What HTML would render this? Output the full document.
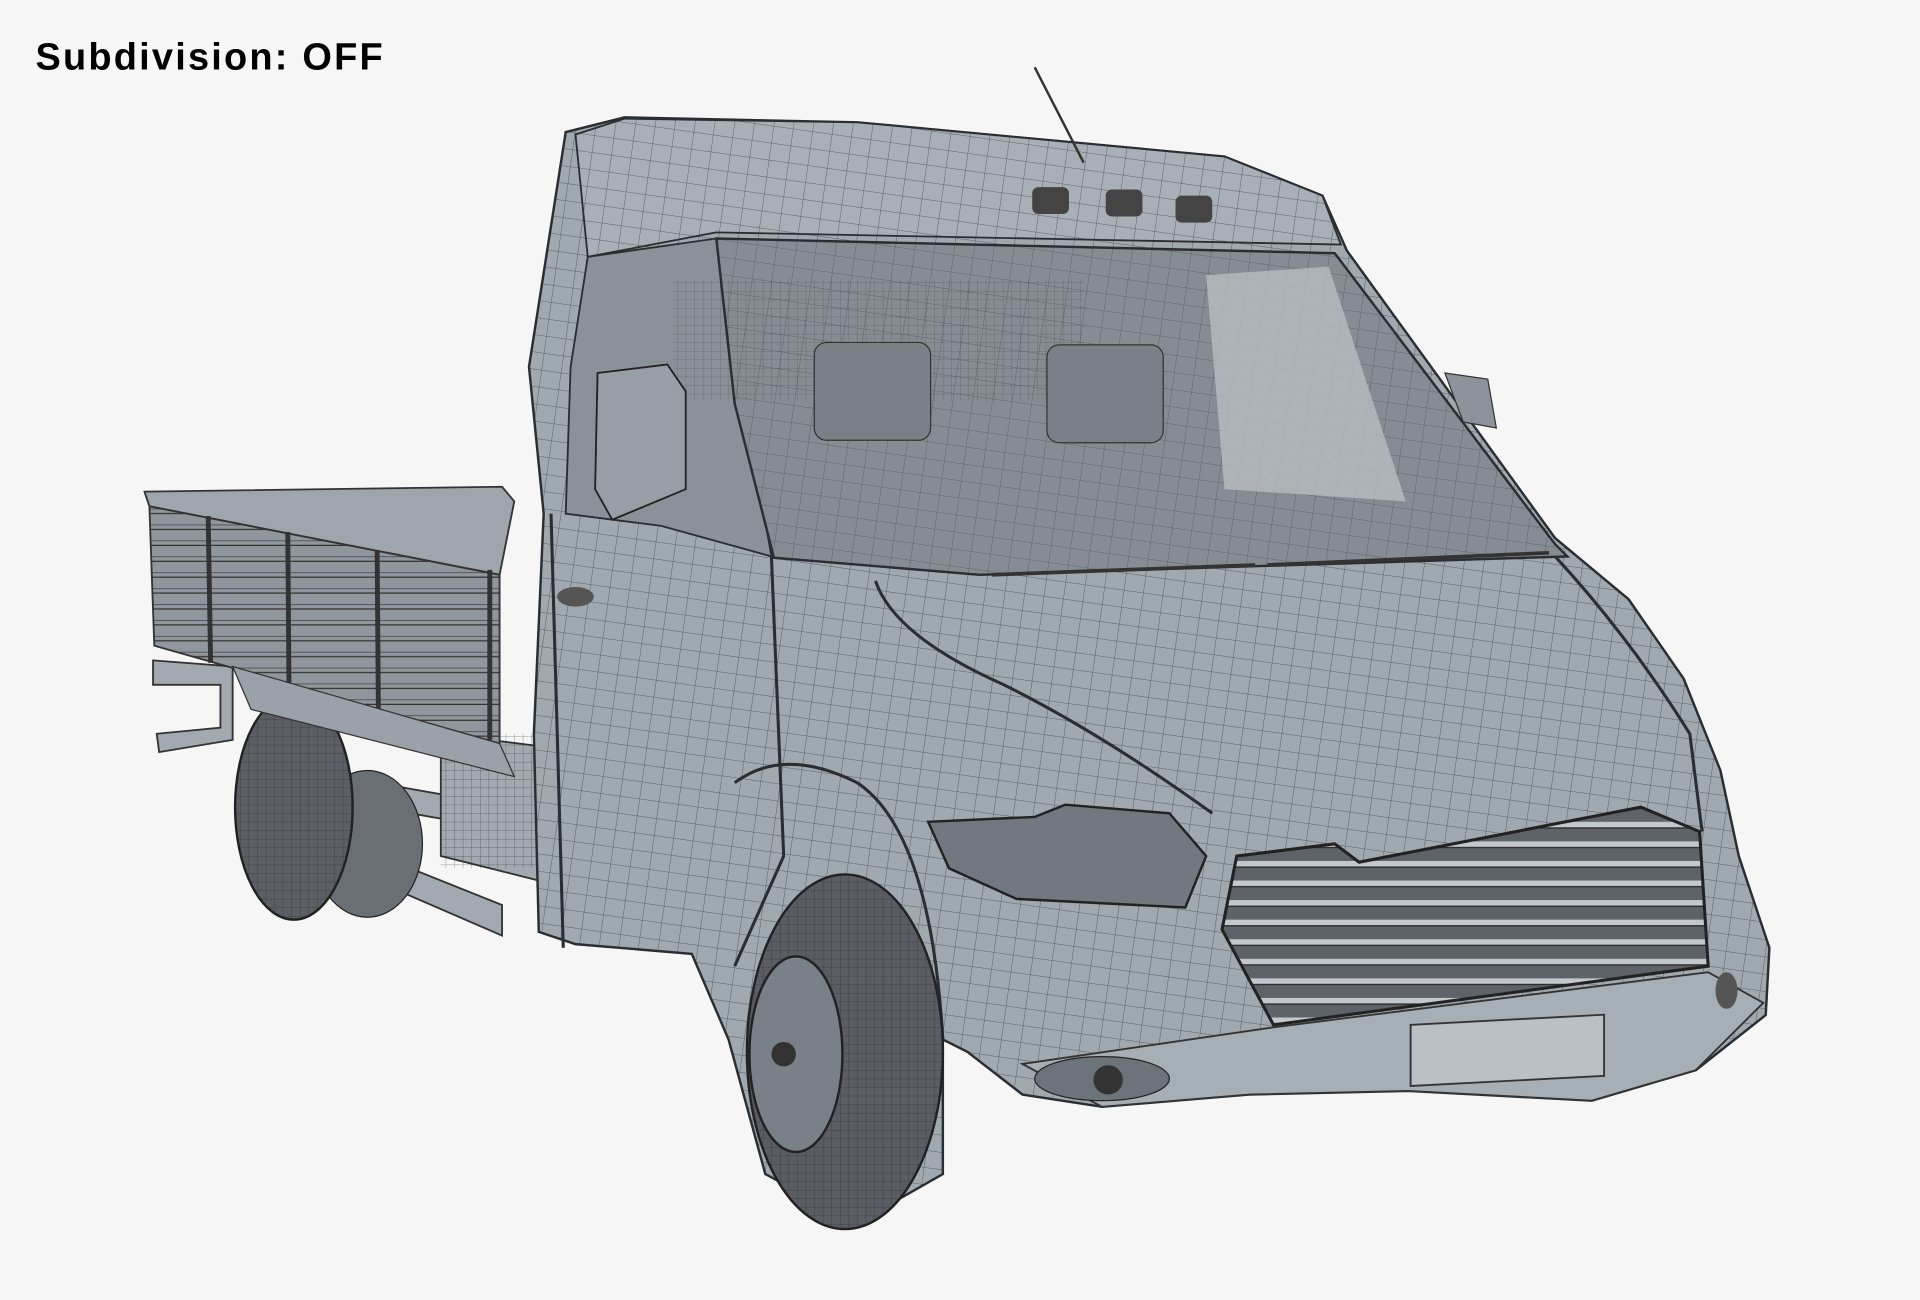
<!DOCTYPE html>
<html><head><meta charset="utf-8"><style>
html,body{margin:0;padding:0;background:#f6f6f6;}
svg{display:block;}
</style></head><body>
<svg width="1920" height="1300" viewBox="0 0 1568 1063" preserveAspectRatio="none" xmlns="http://www.w3.org/2000/svg">
<defs>
<pattern id="mesh" width="16" height="14" patternUnits="userSpaceOnUse" patternTransform="rotate(8)">
<path d="M0 0H16M0 0V14" stroke="#2a2e33" stroke-width="0.8" fill="none" opacity="0.6"/>
</pattern>
<pattern id="fine" width="7" height="7" patternUnits="userSpaceOnUse">
<path d="M0 0H7M0 0V7" stroke="#222" stroke-width="0.6" fill="none" opacity="0.6"/>
</pattern>
<pattern id="slat" width="20" height="16" patternUnits="userSpaceOnUse">
<rect width="20" height="16" fill="#5e636a"/><rect y="0" width="20" height="5" fill="#c2c8ce"/><path d="M0 5H20" stroke="#222" stroke-width="1"/>
</pattern>
<pattern id="bedslat" width="20" height="13" patternUnits="userSpaceOnUse">
<rect width="20" height="13" fill="#8f969e"/><path d="M0 0H20M0 4H20" stroke="#333" stroke-width="1"/>
</pattern>
</defs>
<rect width="1568" height="1063" fill="#f6f6f6"/>
<text x="29" y="57" font-family="Liberation Sans, sans-serif" font-weight="bold" font-size="31" letter-spacing="1.8" fill="#000">Subdivision: OFF</text>

<!-- chassis rails -->
<g fill="#a2a9b1" stroke="#333" stroke-width="1.5">
<polygon points="125,540 190,545 190,605 130,615 128,600 180,595 180,560 125,560"/>
<polygon points="250,630 420,660 420,680 250,650"/>
<polygon points="260,680 410,740 410,765 260,700"/>
<polygon points="360,600 440,610 440,720 360,700"/>
</g>
<rect x="360" y="600" width="80" height="110" fill="url(#fine)"/>

<!-- rear wheel -->
<ellipse cx="300" cy="690" rx="45" ry="60" fill="#6a6f75" stroke="#222"/>
<ellipse cx="240" cy="660" rx="48" ry="92" fill="#5b5f65" stroke="#222" stroke-width="2"/>
<ellipse cx="240" cy="660" rx="48" ry="92" fill="url(#fine)"/>

<!-- bed -->
<polygon points="118,402 410,398 420,410 408,470 122,414" fill="#9ea5ad" stroke="#333" stroke-width="1.5"/>
<polygon points="122,414 408,470 408,608 126,528" fill="url(#bedslat)" stroke="#333" stroke-width="1.5"/>
<g stroke="#333" stroke-width="4">
<line x1="170" y1="422" x2="172" y2="542"/><line x1="235" y1="435" x2="236" y2="560"/><line x1="308" y1="450" x2="309" y2="580"/><line x1="400" y1="466" x2="400" y2="605"/>
</g>
<polygon points="190,545 408,608 420,635 205,580" fill="#9aa1a9" stroke="#333"/>

<!-- cab body -->
<path d="M462,108 L510,96 L700,100 L1000,128 L1080,160 L1100,205 L1270,440 L1330,490 L1375,555 L1405,630 L1420,700 L1445,775 L1442,830 L1385,875 L1300,900 L1150,892 L1020,895 L900,905 L835,895 L790,860 L770,850 L770,960 L700,1000 L625,960 L595,850 L565,780 L470,772 L440,762 L436,600 L444,420 L432,300 Z" fill="#a0a8b0" stroke="#2a2e33" stroke-width="2"/>
<path d="M462,108 L510,96 L700,100 L1000,128 L1080,160 L1100,205 L1270,440 L1330,490 L1375,555 L1405,630 L1420,700 L1445,775 L1442,830 L1385,875 L1300,900 L1150,892 L1020,895 L900,905 L835,895 L790,860 L770,850 L770,960 L700,1000 L625,960 L595,850 L565,780 L470,772 L440,762 L436,600 L444,420 L432,300 Z" fill="url(#mesh)"/>

<!-- roof top -->
<path d="M470,110 L510,97 L700,100 L1000,128 L1080,160 L1095,200 L585,190 L480,210 Z" fill="#a8afb6" stroke="#2a2e33" stroke-width="1.5"/>
<path d="M470,110 L510,97 L700,100 L1000,128 L1080,160 L1095,200 L585,190 L480,210 Z" fill="url(#mesh)"/>

<!-- side window -->
<path d="M480,210 L585,195 L630,455 L540,430 L462,420 L466,300 Z" fill="#8b9198" stroke="#2a2e33" stroke-width="1.5"/>
<!-- windshield -->
<path d="M585,195 L1090,207 L1270,445 L1280,455 L800,470 L632,456 L600,330 Z" fill="#868c93" stroke="#2a2e33" stroke-width="2"/>
<path d="M585,195 L1090,207 L1270,445 L1280,455 L800,470 L632,456 L600,330 Z" fill="url(#mesh)" opacity="0.7"/>
<polygon points="985,225 1085,218 1148,410 1000,400" fill="#b8bdc2" opacity="0.8"/>
<rect x="550" y="228" width="335" height="100" fill="url(#fine)" opacity="0.6"/>
<g fill="#7a8087" stroke="#333">
<rect x="665" y="280" width="95" height="80" rx="10"/><rect x="855" y="282" width="95" height="80" rx="10"/>
</g>
<!-- mirror -->
<path d="M488,305 L545,298 L560,320 L560,400 L500,425 L486,400 Z" fill="#979ea6" stroke="#222" stroke-width="1.5"/>
<path d="M1180,305 L1215,310 L1222,350 L1195,345 Z" fill="#8d939a" stroke="#333"/>

<!-- wipers -->
<g stroke="#333" stroke-width="3"><line x1="810" y1="470" x2="1025" y2="462"/><line x1="1035" y1="462" x2="1265" y2="452"/></g>

<!-- roof lights + antenna -->
<line x1="845" y1="55" x2="885" y2="133" stroke="#333" stroke-width="2"/>
<g fill="#444"><rect x="843" y="153" width="30" height="22" rx="5"/><rect x="903" y="155" width="30" height="22" rx="5"/><rect x="960" y="160" width="30" height="22" rx="5"/></g>

<!-- creases -->
<g stroke="#2a2e33" stroke-width="2.5" fill="none">
<path d="M450,420 L460,775 M630,455 L640,700 L600,790"/>
<path d="M715,475 Q730,520 820,560 Q900,600 990,665"/>
<path d="M1270,455 Q1330,520 1380,600 L1390,680"/>
<path d="M600,640 Q640,610 700,640 Q760,680 770,850"/>
</g>
<ellipse cx="470" cy="488" rx="15" ry="8" fill="#555"/>

<!-- headlight -->
<path d="M758,672 L845,668 L870,658 L955,665 L985,700 L968,742 L830,735 L775,710 Z" fill="#72787f" stroke="#222" stroke-width="2"/>
<!-- grille -->
<path d="M1010,700 L1090,690 L1110,705 L1340,660 L1388,680 L1395,790 L1040,838 L998,760 Z" fill="url(#slat)" stroke="#222" stroke-width="2.5"/>
<!-- bumper -->
<path d="M835,870 L1040,840 L1395,795 L1440,820 L1385,875 L1300,900 L1150,892 L1020,895 L900,905 Z" fill="#a6aeb6" stroke="#333" stroke-width="1.5"/>
<rect x="1152" y="838" width="158" height="50" fill="#b9c0c6" stroke="#333" stroke-width="1.5" transform="skewY(-3)" transform-origin="1152 838"/>
<ellipse cx="900" cy="882" rx="55" ry="18" fill="#6d737a" stroke="#222"/>
<circle cx="905" cy="883" r="12" fill="#333"/>
<ellipse cx="1410" cy="810" rx="9" ry="15" fill="#555"/>

<!-- front wheel -->
<ellipse cx="690" cy="860" rx="80" ry="145" fill="#5a5e64" stroke="#222" stroke-width="2"/>
<ellipse cx="690" cy="860" rx="80" ry="145" fill="url(#fine)"/>
<ellipse cx="650" cy="862" rx="38" ry="80" fill="#7a8087" stroke="#222" stroke-width="2"/>
<circle cx="640" cy="862" r="10" fill="#333"/>
</svg>
</body></html>
